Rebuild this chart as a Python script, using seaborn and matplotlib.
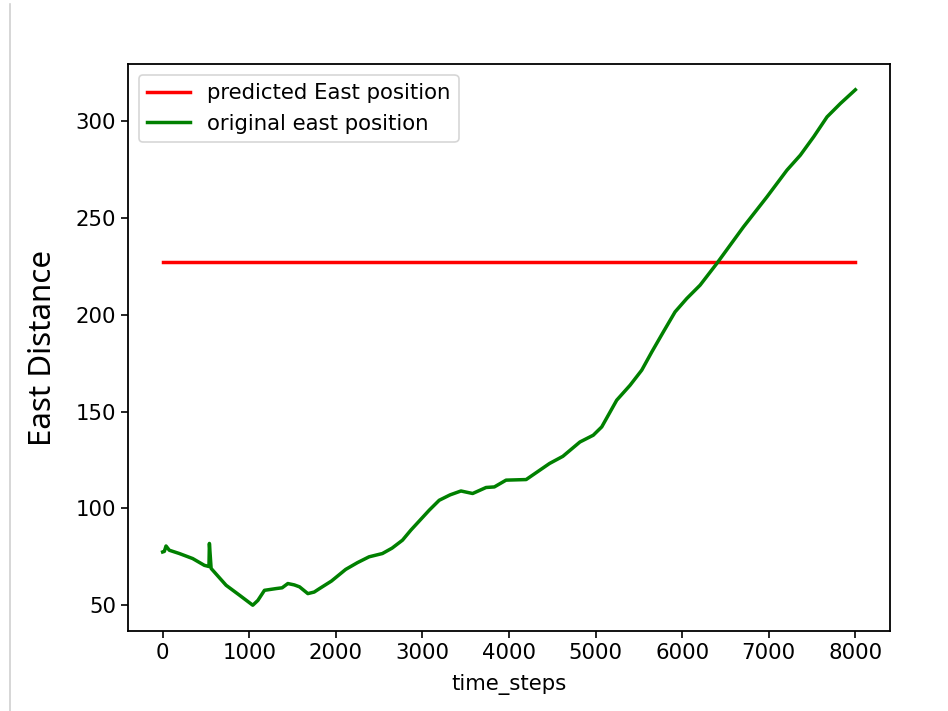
import matplotlib
matplotlib.use("Agg")
import matplotlib.pyplot as plt
import seaborn as sns
import pandas as pd
from matplotlib.lines import Line2D

# ---- data ----
time_steps = [0, 20, 39, 77, 193, 347, 482, 535, 540, 560, 733, 887, 1041, 1100,
              1176, 1311, 1380, 1446, 1520, 1581, 1677, 1750, 1812, 1950, 2114, 2250,
              2384, 2538, 2650, 2770, 2867, 2970, 3079, 3194, 3320, 3445, 3580, 3735,
              3831, 3966, 4198, 4468, 4622, 4819, 4973, 5071, 5244, 5398, 5533, 5649,
              5783, 5918, 6053, 6207, 6400, 6708, 6979, 7210, 7364, 7520, 7673, 7827,
              8000]
original_east = [77.5, 77.8, 80.6, 78.4, 76.7, 74.1, 70.6, 70.0, 81.9, 69.0, 60.3,
                 55.2, 50.0, 52.5, 57.7, 58.6, 59.0, 61.2, 60.5, 59.5, 56.0, 56.8,
                 58.6, 62.5, 68.5, 72.0, 75.0, 76.7, 79.5, 83.6, 88.8, 93.8, 99.1,
                 104.2, 107.0, 109.0, 107.7, 110.8, 111.1, 114.6, 114.9, 123.2, 126.9,
                 134.3, 137.8, 142.1, 155.9, 163.6, 171.4, 180.8, 191.2, 201.5, 208.4,
                 215.3, 226.5, 245.4, 260.9, 274.7, 282.4, 292.0, 302.2, 309.1, 316.2]
pred_steps = [0, 8000]
predicted_east = [227.2, 227.2]

labels = ["predicted East position", "original east position"]

df_orig = pd.DataFrame({"t": time_steps, "v": original_east})
df_pred = pd.DataFrame({"t": pred_steps, "v": predicted_east})

plt.rcParams["font.family"] = ["DejaVu Sans"]
fig = plt.figure(figsize=(9.48, 7.11), dpi=100)
ax = fig.add_axes([128 / 948, 1 - 631 / 711, (890 - 128) / 948, (631 - 64) / 711])

sns.lineplot(data=df_pred, x="t", y="v", ax=ax, color="red", linewidth=2.5,
             estimator=None, label=labels[0])
sns.lineplot(data=df_orig, x="t", y="v", ax=ax, color="green", linewidth=2.5,
             estimator=None, label=labels[1])

ax.set_xticks([0, 1000, 2000, 3000, 4000, 5000, 6000, 7000, 8000])
ax.set_yticks([50, 100, 150, 200, 250, 300])
ax.tick_params(labelsize=15.3, length=5, width=1.2, color="black")
for s in ax.spines.values():
    s.set_linewidth(1.3)
    s.set_color("black")

ax.set_xlabel("time_steps", fontsize=15.3, labelpad=8)
ax.set_ylabel("East Distance", fontsize=22.5, family=["Noto Sans", "DejaVu Sans"],
              fontstretch="condensed", labelpad=13)

leg = ax.legend(loc="upper left", fontsize=15.3, frameon=True, handlelength=2.0)
leg.get_frame().set_edgecolor("#cccccc")
leg.get_frame().set_linewidth(1.2)

fig.add_artist(Line2D([10 / 948, 10 / 948], [0, 1 - 4 / 711], transform=fig.transFigure,
                      color="#d0d0d0", linewidth=1.2))

fig.savefig("out.png", dpi=100)
